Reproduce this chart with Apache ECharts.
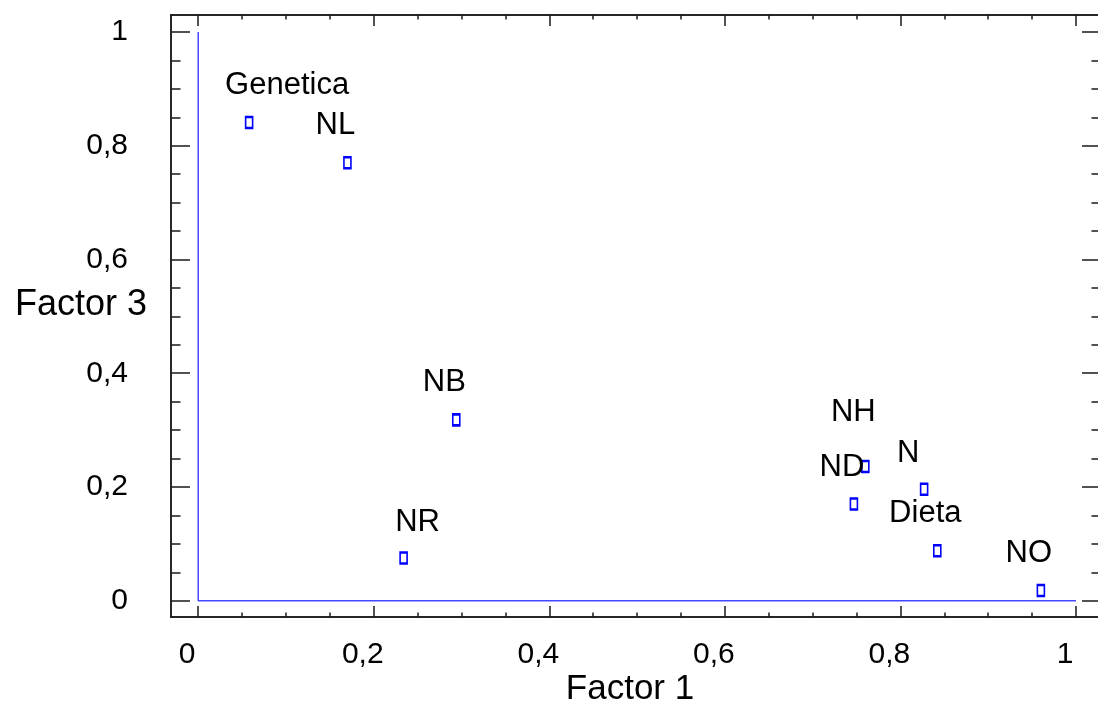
<!DOCTYPE html>
<html>
<head>
<meta charset="utf-8">
<title>Factor 1 vs Factor 3</title>
<script src="https://cdn.jsdelivr.net/npm/echarts@6/dist/echarts.min.js"></script>
<style>
  html, body { margin: 0; padding: 0; background: #ffffff; }
  #chart { width: 1098px; height: 711px; }
</style>
</head>
<body>
<div id="chart"></div>
<script>
// Variable names and their loadings on factor 1 and factor 3
const names   = ['Genetica', 'NL', 'NB', 'NR', 'NH', 'ND', 'N', 'Dieta', 'NO'];
const factor1 = [0.058, 0.170, 0.294, 0.234, 0.760, 0.747, 0.827, 0.842, 0.960];
const factor3 = [0.841, 0.770, 0.318, 0.075, 0.236, 0.170, 0.196, 0.088, 0.018];

// Tick values (shared by both axes)
const majorTicks = [0, 0.2, 0.4, 0.6, 0.8, 1];
const minorTicks = [0.05, 0.1, 0.15, 0.25, 0.3, 0.35, 0.45, 0.5, 0.55,
                    0.65, 0.7, 0.75, 0.85, 0.9, 0.95];

// Reference lines along the zero axes
const zeroLines = [[0, 1], [0, 0], [1, 0]];

// Label placement around each marker
const labelNudgeDefault = [-12, -37];
const labelNudge = { Genetica: [38, -37], NR: [14, -36], NH: [-12, -54], N: [-16, -36] };

const FONT = '"Liberation Sans", Arial, sans-serif';
const X_RANGE = { min: -0.031, max: 1.0285 };
const Y_RANGE = { min: -0.0286, max: 1.0299 };
const frameLine = { show: true, onZero: false, lineStyle: { color: '#1a1a1a', width: 1.5 } };
const comma = v => String(v).replace('.', ',');

function xAxisDef(position, ticks, len, withLabels, extra) {
  return Object.assign({
    type: 'value', position: position, min: X_RANGE.min, max: X_RANGE.max,
    axisLine: frameLine,
    axisTick: { show: true, inside: true, length: len, customValues: ticks,
                lineStyle: { color: '#1a1a1a', width: 1.5 } },
    axisLabel: withLabels ? {
      show: true, customValues: ticks, formatter: comma, margin: 23,
      padding: [0, 22, 0, 0], color: '#000', fontSize: 30, fontFamily: FONT
    } : { show: false },
    splitLine: { show: false }
  }, extra || {});
}

function yAxisDef(position, ticks, len, withLabels, extra) {
  return Object.assign({
    type: 'value', position: position, min: Y_RANGE.min, max: Y_RANGE.max,
    axisLine: frameLine,
    axisTick: { show: true, inside: true, length: len, customValues: ticks,
                lineStyle: { color: '#1a1a1a', width: 1.5 } },
    axisLabel: withLabels ? {
      show: true, customValues: ticks, formatter: comma, margin: 43,
      padding: [0, 0, 20, 0], color: '#000', fontSize: 30, fontFamily: FONT
    } : { show: false },
    splitLine: { show: false }
  }, extra || {});
}

const chart = echarts.init(document.getElementById('chart'), null, { renderer: 'canvas' });

chart.setOption({
  animation: false,
  backgroundColor: '#ffffff',
  grid: {
    left: 171, top: 15, width: 930, height: 602,
    containLabel: false, outerBoundsMode: 'none'
  },
  xAxis: [
    xAxisDef('bottom', majorTicks, 11, true, {
      name: 'Factor 1', nameLocation: 'middle', nameGap: 55, nameMoveOverlap: false,
      nameTextStyle: { color: '#000', fontSize: 35, fontFamily: FONT, padding: [0, 12, 0, 0] }
    }),
    xAxisDef('bottom', minorTicks, 4.5, false),
    xAxisDef('top', majorTicks, 11, false),
    xAxisDef('top', minorTicks, 4.5, false)
  ],
  yAxis: [
    yAxisDef('left', majorTicks, 19, true, {
      name: 'Factor 3', nameLocation: 'middle', nameRotate: 0, nameGap: 24, nameMoveOverlap: false,
      nameTextStyle: {
        color: '#000', fontSize: 36, fontFamily: FONT,
        verticalAlign: 'bottom', lineHeight: 22
      }
    }),
    yAxisDef('left', minorTicks, 9.5, false),
    yAxisDef('right', majorTicks, 19, false),
    yAxisDef('right', minorTicks, 9.5, false)
  ],
  series: [
    {
      type: 'line',
      xAxisIndex: 0, yAxisIndex: 0,
      data: zeroLines,
      symbol: 'none', silent: true, z: 1,
      lineStyle: { color: '#4646ff', width: 1.5 }
    },
    {
      type: 'scatter',
      xAxisIndex: 0, yAxisIndex: 0,
      z: 3,
      symbol: 'rect',
      symbolSize: [7, 11],
      itemStyle: { color: 'rgba(255,255,255,0)', borderColor: '#0000ff', borderWidth: 2, opacity: 1 },
      label: {
        show: true, position: ['50%', '50%'], align: 'center', verticalAlign: 'middle',
        color: '#000', textBorderWidth: 0,
        fontSize: 31, fontFamily: FONT,
        formatter: p => p.name
      },
      data: names.map((n, i) => ({
        name: n,
        value: [factor1[i], factor3[i]],
        label: { offset: labelNudge[n] || labelNudgeDefault }
      }))
    }
  ]
});
</script>
</body>
</html>
